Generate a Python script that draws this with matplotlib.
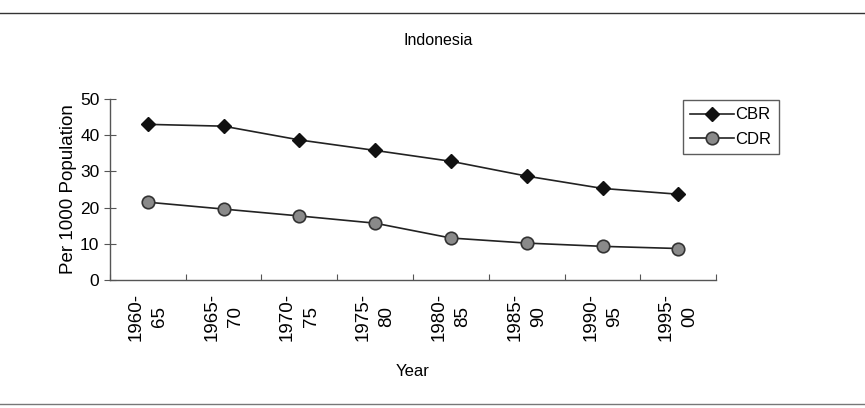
import matplotlib.pyplot as plt
import numpy as np

plt.rcParams['font.family'] = ['Liberation Sans', 'DejaVu Sans']

periods = ['1960-\n65', '1965-\n70', '1970-\n75', '1975-\n80',
           '1980-\n85', '1985-\n90', '1990-\n95', '1995-\n00']
cbr = [43.0, 42.5, 38.7, 35.8, 32.8, 28.7, 25.3, 23.7]   # births per 1000
cdr = [21.5, 19.6, 17.7, 15.7, 11.6, 10.2, 9.3, 8.7]     # deaths per 1000

fig = plt.figure(figsize=(8.65, 4.08), dpi=100)
ax = fig.add_axes([0.127, 0.3137, 0.701, 0.4436])

x = np.arange(len(periods))
ax.plot(x, cbr, color='#222222', lw=1.2, marker='D', ms=7,
        mfc='#111111', mec='#111111', label='CBR')
ax.plot(x, cdr, color='#222222', lw=1.2, marker='o', ms=9,
        mfc='#8a8a8a', mec='#333333', mew=1.2, label='CDR')

ax.set_xlim(-0.5, len(periods) - 0.5)
ax.set_ylim(0, 50)
ax.set_yticks(range(0, 51, 10))
ax.set_xticks(np.arange(-0.5, len(periods)), minor=False)
ax.set_xticklabels([])
ax.set_xticks(x, minor=True)
ax.set_xticklabels(periods, minor=True, rotation=90, fontsize=13.5,
                   linespacing=1.5, va='top', ha='center', multialignment='center')
ax.tick_params(axis='x', which='major', direction='in', length=4, color='#555555')
ax.tick_params(axis='x', which='minor', length=0, pad=9)
ax.tick_params(axis='y', direction='inout', length=8, color='#555555', labelsize=12.5)

for s in ['top', 'right']:
    ax.spines[s].set_visible(False)
for s in ['left', 'bottom']:
    ax.spines[s].set_color('#555555')
    ax.spines[s].set_linewidth(1.0)

ax.set_ylabel('Per 1000 Population', fontsize=13.5, labelpad=2)
ax.set_xlabel('Year', fontsize=12, labelpad=17)

leg = ax.legend(loc='upper left', bbox_to_anchor=(0.945, 0.995), fontsize=12,
                frameon=True, fancybox=False, edgecolor='#333333',
                handlelength=2.6, handletextpad=0.1, borderpad=0.45,
                labelspacing=0.55, borderaxespad=0)
leg.get_frame().set_linewidth(1.0)

fig.text(0.506, 0.90, 'Indonesia', ha='center', va='center', fontsize=11.5)

# scan border lines
fig.add_artist(plt.Line2D([0, 1], [0.968, 0.968], color='#333333', lw=1.0))
fig.add_artist(plt.Line2D([0, 1], [0.01, 0.01], color='#777777', lw=1.0))

fig.savefig('out.png', dpi=100)
